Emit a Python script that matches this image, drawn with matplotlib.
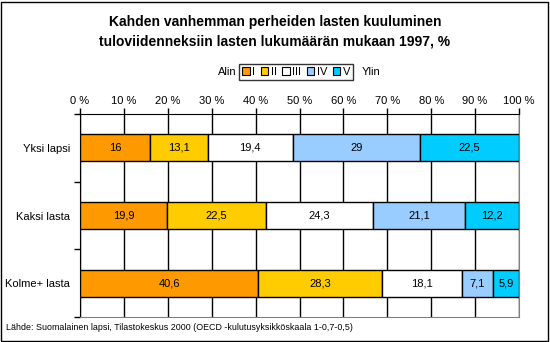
import matplotlib.pyplot as plt
from matplotlib.patches import Patch, Rectangle

plt.rcParams['font.family'] = ['Liberation Sans', 'DejaVu Sans']

categories = ["Yksi lapsi", "Kaksi lasta", "Kolme+ lasta"]
quintiles = ["I", "II", "III", "IV", "V"]
values = [
    [16, 13.1, 19.4, 29, 22.5],
    [19.9, 22.5, 24.3, 21.1, 12.2],
    [40.6, 28.3, 18.1, 7.1, 5.9],
]
colors = ["#FF9900", "#FFCC00", "#FFFFFF", "#99CCFF", "#00CCFF"]

fig = plt.figure(figsize=(5.5, 3.42), dpi=100)
ax = fig.add_axes([80/550, 1-317/342, 439/550, 203/342])

for i, cat in enumerate(categories):
    left = 0
    for j, v in enumerate(values[i]):
        ax.barh(i, v, left=left, height=0.4, color=colors[j],
                edgecolor="black", linewidth=1, zorder=3)
        ax.text(left + v/2, i, str(v).replace(".", ","), ha="center",
                va="center", fontsize=8, zorder=4)
        left += v

ax.set_xlim(0, 100)
ax.set_ylim(2.5, -0.5)
ax.set_xticks(range(0, 101, 10))
ax.set_xticklabels([f"{t} %" for t in range(0, 101, 10)], fontsize=8)
ax.xaxis.tick_top()
ax.tick_params(axis="x", length=4, width=1, pad=2, color="black")
ax.set_yticks(range(len(categories)))
ax.set_yticklabels(categories, fontsize=8)
ax.tick_params(axis="y", which="major", length=0, pad=7)
ax.set_yticks([-0.5, 0.5, 1.5, 2.5], minor=True)
ax.tick_params(axis="y", which="minor", length=4, width=1)
ax.grid(axis="x", color="black", linewidth=1, zorder=0)
ax.spines["top"].set_color("black")
ax.spines["left"].set_color("black")
ax.spines["bottom"].set_color("#808080")
ax.spines["right"].set_color("#808080")

fig.text(0.5, 1-22/342, "Kahden vanhemman perheiden lasten kuuluminen",
         ha="center", va="center", fontsize=10, fontweight="bold")
fig.text(0.5, 1-42/342, "tuloviidenneksiin lasten lukumäärän mukaan 1997, %",
         ha="center", va="center", fontsize=10, fontweight="bold")

handles = [Patch(facecolor=c, edgecolor="black", linewidth=0.8) for c in colors]
leg = fig.legend(handles, quintiles, loc="center", bbox_to_anchor=(296/550, 1-72/342),
                 ncol=5, fontsize=8, frameon=True, fancybox=False,
                 edgecolor="black", handlelength=0.7, handleheight=0.7,
                 handletextpad=0.2, columnspacing=0.5, borderpad=0.25,
                 borderaxespad=0)
leg.get_frame().set_linewidth(1)
fig.text(237/550, 1-72/342, "Alin", ha="right", va="center", fontsize=8)
fig.text(362/550, 1-72/342, "Ylin", ha="left", va="center", fontsize=8)

fig.text(6/550, 1-328/342,
         "Lähde: Suomalainen lapsi, Tilastokeskus 2000 (OECD -kulutusyksikköskaala 1-0,7-0,5)",
         ha="left", va="center", fontsize=6.4)

fig.patches.append(Rectangle((1/550, 1/342), 547/550, 339/342, transform=fig.transFigure,
                             fill=False, edgecolor="black", linewidth=1))

fig.savefig("out.png", dpi=100)
